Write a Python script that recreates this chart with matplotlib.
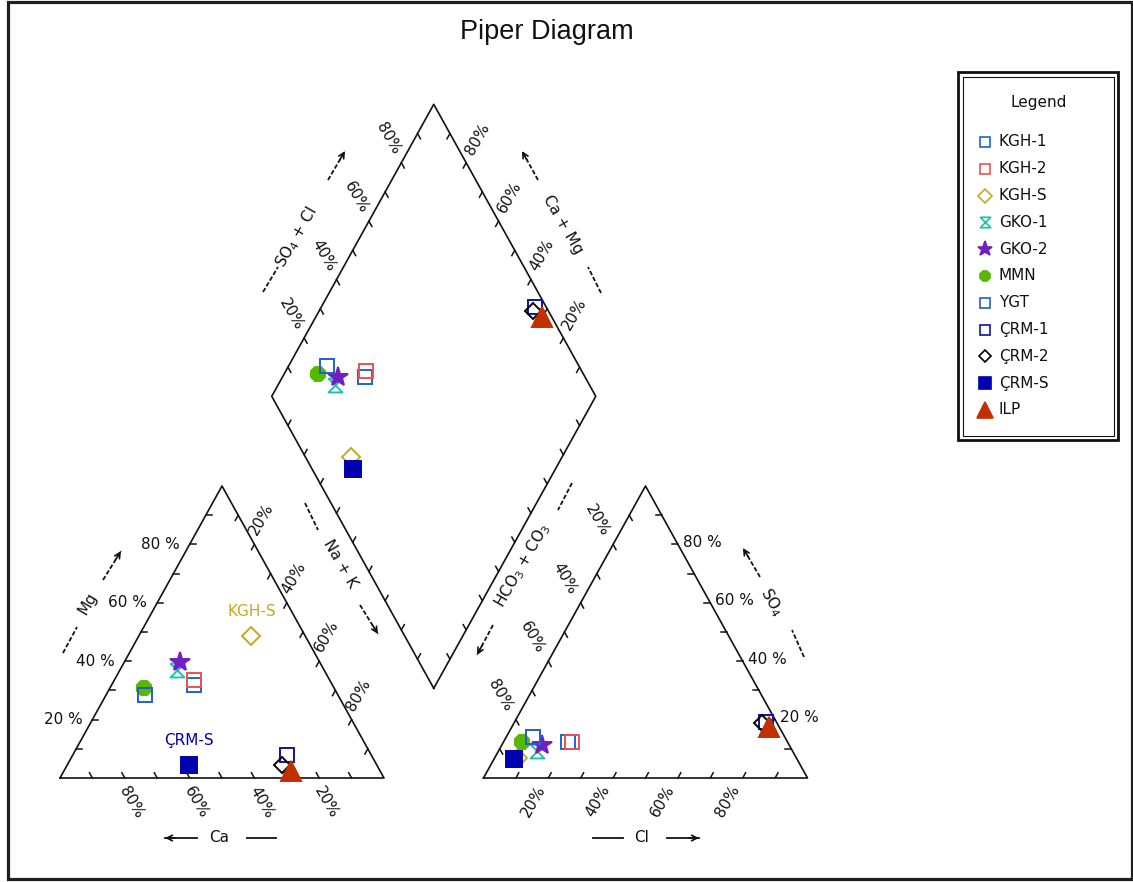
import numpy as np
from matplotlib import pyplot as plt
from matplotlib.patches import Rectangle
from matplotlib.path import Path

# sample composition, % of meq
samples = ["KGH-1", "KGH-2", "KGH-S", "GKO-1", "GKO-2", "MMN", "YGT",
           "ÇRM-1", "ÇRM-2", "ÇRM-S", "ILP"]
ca = [42.7, 41.7, 16.5, 45.5, 43.1, 58.7, 59.6, 26.1, 29.3, 58.0, 27.5]
mg = [31.8, 33.6, 48.8, 37.0, 39.8, 30.8, 28.4, 7.9, 4.5, 4.5, 2.5]
na_k = [25.5, 24.7, 34.7, 17.5, 17.1, 10.5, 12.0, 66.0, 66.2, 37.5, 70.0]
hco3 = [67.9, 66.6, 86.0, 78.7, 76.3, 81.9, 77.6, 3.3, 4.7, 87.4, 3.0]
so4 = [12.2, 12.2, 7.0, 9.4, 11.3, 12.4, 14.1, 19.3, 18.7, 6.4, 17.5]
cl = [19.9, 21.2, 7.0, 11.9, 12.4, 5.7, 8.3, 77.4, 76.6, 6.2, 79.5]

hourglass = Path([(-1, 1), (1, 1), (-1, -1), (1, -1), (-1, 1)])
styles = {
    "KGH-1": dict(marker="s", color="#1f63d6", fill=False, ms=10),
    "KGH-2": dict(marker="s", color="#f05050", fill=False, ms=10),
    "KGH-S": dict(marker="D", color="#c8a820", fill=False, ms=9),
    "GKO-1": dict(marker=hourglass, color="#20c0a8", fill=False, ms=10),
    "GKO-2": dict(marker="*", color="#7020c0", fill=True, ms=15),
    "MMN": dict(marker="8", color="#58b800", fill=True, ms=11),
    "YGT": dict(marker="s", color="#2060d0", fill=False, ms=10),
    "ÇRM-1": dict(marker="s", color="#1010b0", fill=False, ms=10),
    "ÇRM-2": dict(marker="D", color="#000000", fill=False, ms=8),
    "ÇRM-S": dict(marker="s", color="#0000b0", fill=True, ms=11),
    "ILP": dict(marker="^", color="#c03000", fill=True, ms=15),
}
labelled = ["KGH-S", "ÇRM-S"]

# layout in pixels
X_L, X_R, BASE_Y = 60.0, 483.5, 778.0
SIDE, HEIGHT = 324.0, 292.0
X_D = (X_L + SIDE + X_R) / 2
Y_D = BASE_Y - (X_R - X_L - SIDE) / 2 * HEIGHT / (SIDE / 2)
INK = "#111111"


def cation_xy(mg_, nak_):
    return X_L + SIDE * (nak_ / 100 + mg_ / 200), BASE_Y - HEIGHT * mg_ / 100


def anion_xy(so4_, cl_):
    return X_R + SIDE * (cl_ / 100 + so4_ / 200), BASE_Y - HEIGHT * so4_ / 100


def diamond_xy(nak_, so4cl_):
    x = X_D + SIDE / 2 * (nak_ + so4cl_ - 100) / 100
    y = Y_D - HEIGHT * (so4cl_ + 100 - nak_) / 100
    return x, y


def unit(dx, dy):
    n = np.hypot(dx, dy)
    return dx / n, dy / n


fig = plt.figure(figsize=(11.33, 8.82), dpi=100)
ax = fig.add_axes([0, 0, 1, 1])
ax.set_xlim(0, 1133)
ax.set_ylim(882, 0)
ax.axis("off")

# outlines
left_tri = [cation_xy(0, 0), cation_xy(0, 100), cation_xy(100, 0), cation_xy(0, 0)]
right_tri = [anion_xy(0, 0), anion_xy(0, 100), anion_xy(100, 0), anion_xy(0, 0)]
diamond = [diamond_xy(100, 0), diamond_xy(100, 100), diamond_xy(0, 100),
           diamond_xy(0, 0), diamond_xy(100, 0)]
for shape in (left_tri, right_tri, diamond):
    xs, ys = zip(*shape)
    ax.plot(xs, ys, color=INK, lw=1.2, zorder=2)

# (edge point function, tick direction, label rotation, label offset, ha, text format)
up_left = unit(-162, -292)
down_left = unit(-162, 292)
up_right = unit(162, -292)
down_right = unit(162, 292)
edges = [
    (lambda v: cation_xy(v, 0), (1, 0), 0, (-10, 0), "right", "{} %"),
    (lambda v: cation_xy(0, 100 - v), up_left, -60, (7, 24), "center", "{}%"),
    (lambda v: cation_xy(100 - v, v), down_left, 60, (7, -25), "center", "{}%"),
    (lambda v: anion_xy(0, v), up_right, 60, (-15, 23), "center", "{}%"),
    (lambda v: anion_xy(v, 100 - v), (-1, 0), 0, (5, -2), "left", "{} %"),
    (lambda v: anion_xy(100 - v, 0), down_right, -60, (-16, -24), "center", "{}%"),
    (lambda v: diamond_xy(0, v), down_right, -60, (-13, -24), "center", "{}%"),
    (lambda v: diamond_xy(100 - v, 100), down_left, 60, (11, -24), "center", "{}%"),
    (lambda v: diamond_xy(v, 0), up_right, 0, None, "center", ""),
    (lambda v: diamond_xy(100, 100 - v), up_left, 0, None, "center", ""),
]
for point, (tx, ty), rot, off, ha, fmt in edges:
    for v in range(10, 100, 10):
        x, y = point(v)
        ax.plot([x, x + 6 * tx], [y, y + 6 * ty], color=INK, lw=1.1, zorder=2)
        if off is not None and v % 20 == 0:
            ax.text(x + off[0], y + off[1], fmt.format(v), rotation=rot,
                    ha=ha, va="center", fontsize=11, color=INK)

# axis names with their arrows
axis_names = [
    ("Mg", (88, 603), 60, (63, 653), (77, 627), (103, 580), (121, 551)),
    ("Ca", (219, 837), 0, (247, 838), (276, 838), (197, 838), (165, 838)),
    ("Na + K", (340, 564), -60, (305, 503), (318, 530), (360, 605), (378, 634)),
    ("HCO$_3$ + CO$_3$", (523, 565), 60, (572, 483), (558, 510), (493, 625), (477, 655)),
    ("SO$_4$", (772, 602), -60, (804, 657), (792, 630), (760, 577), (743, 548)),
    ("Cl", (642, 837), 0, (593, 838), (623, 838), (667, 838), (699, 838)),
    ("SO$_4$ + Cl", (297, 237), 60, (263, 292), (278, 267), (328, 180), (345, 151)),
    ("Ca + Mg", (563, 225), -60, (601, 293), (588, 267), (538, 180), (522, 151)),
]
for name, pos, rot, s0, s1, a0, a1 in axis_names:
    ls = "-" if rot == 0 else (0, (2.5, 1.2))
    ax.text(pos[0], pos[1], name, rotation=rot, ha="center", va="center",
            fontsize=11, color=INK)
    ax.plot([s0[0], s1[0]], [s0[1], s1[1]], color=INK, lw=1.3, ls=ls)
    ax.plot([a0[0], a1[0]], [a0[1], a1[1]], color=INK, lw=1.3, ls=ls)
    ax.annotate("", xy=a1, xytext=(a1[0] - 0.3 * (a1[0] - a0[0]), a1[1] - 0.3 * (a1[1] - a0[1])),
                arrowprops=dict(arrowstyle="->", color=INK, lw=1.2,
                                mutation_scale=10, shrinkA=0, shrinkB=0))

# samples in each field
for i, name in enumerate(samples):
    st = styles[name]
    face = st["color"] if st["fill"] else "none"
    kw = dict(marker=st["marker"], ms=st["ms"], mec=st["color"], mfc=face,
              mew=1.4, ls="none", zorder=5 + i)
    cx, cy = cation_xy(mg[i], na_k[i])
    axy = anion_xy(so4[i], cl[i])
    dxy = diamond_xy(na_k[i], so4[i] + cl[i])
    ax.plot([cx, axy[0], dxy[0]], [cy, axy[1], dxy[1]], **kw)
    if name in labelled:
        ax.annotate(name, (cx, cy), xytext=(0, 17.5), textcoords="offset points",
                    ha="center", va="center", fontsize=11, color=st["color"])

ax.text(547, 32, "Piper Diagram", ha="center", va="center", fontsize=19.5,
        family=["Liberation Sans Narrow", "Liberation Sans"], color=INK)

# legend box
ax.add_patch(Rectangle((958, 72), 160, 368, fill=False, ec=INK, lw=2.0))
ax.add_patch(Rectangle((962.5, 76.5), 151, 359, fill=False, ec=INK, lw=0.8))
ax.text(1039, 102, "Legend", ha="center", va="center", fontsize=11, color=INK)
for i, name in enumerate(samples):
    st = styles[name]
    y = 142 + i * 26.8
    face = st["color"] if st["fill"] else "none"
    ax.plot([985], [y], marker=st["marker"], ms=st["ms"] * 0.75, mec=st["color"],
            mfc=face, mew=1.2, ls="none")
    ax.text(999, y, name, ha="left", va="center", fontsize=11, color=INK)

# page frame
ax.add_patch(Rectangle((7.5, 1.5), 1124, 877.5, fill=False, ec="#231f20", lw=2.3))

fig.savefig("out.png", dpi=100)
